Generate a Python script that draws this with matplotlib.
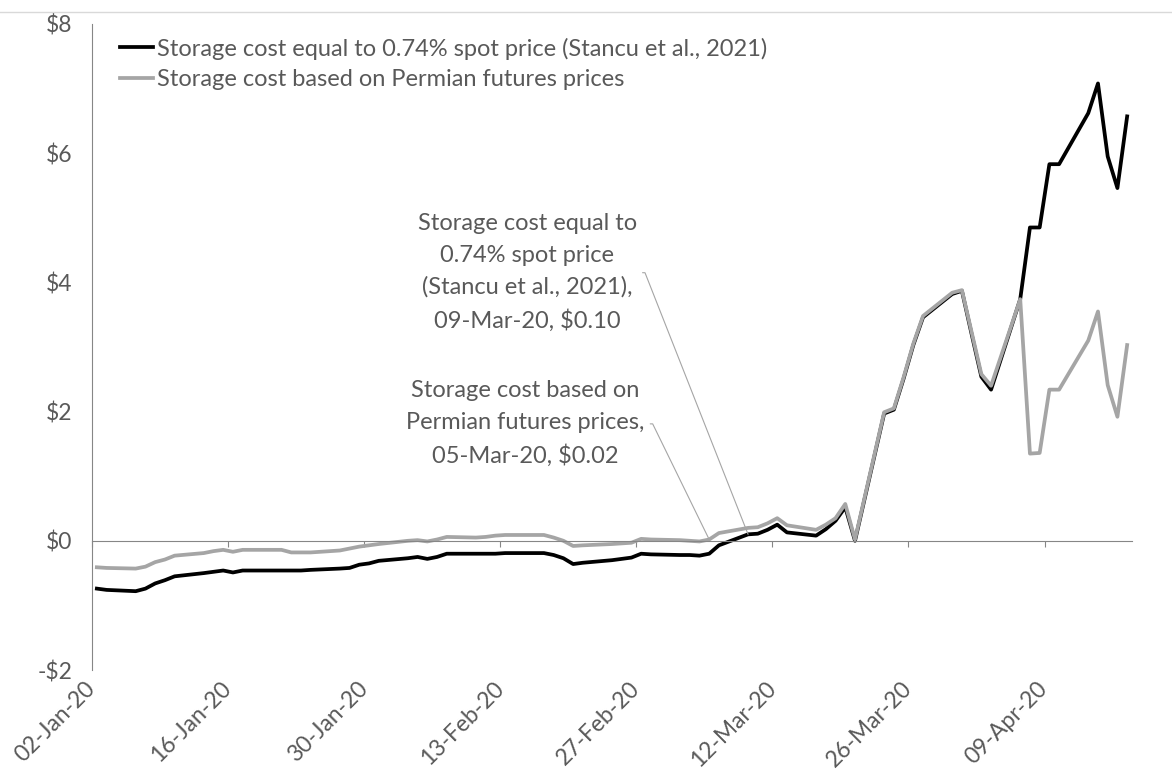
import matplotlib
matplotlib.use("Agg")
import matplotlib.pyplot as plt
import numpy as np
import pandas as pd
from matplotlib.lines import Line2D
from matplotlib.ticker import FuncFormatter

plt.rcParams["font.family"] = ["Lato", "DejaVu Sans"]

# trading days, 02-Jan-20 .. 17-Apr-20
dates = pd.bdate_range("2020-01-02", "2020-04-17")

# storage cost equal to 0.74% spot price (black)
spot_cost = [
    # Jan
    -0.74, -0.76, -0.78, -0.74, -0.66, -0.61, -0.55, -0.50, -0.48, -0.46, -0.49,
    -0.46, -0.46, -0.46, -0.46, -0.46, -0.45, -0.43, -0.42, -0.37, -0.35, -0.31,
    # Feb
    -0.27, -0.25, -0.28, -0.25, -0.20, -0.20, -0.20, -0.20, -0.19, -0.19,
    -0.19, -0.22, -0.27, -0.36, -0.34, -0.30, -0.28, -0.26, -0.20, -0.21,
    # Mar
    -0.22, -0.22, -0.23, -0.20, -0.07, 0.10, 0.11, 0.17, 0.25, 0.13, 0.08,
    0.18, 0.31, 0.52, 0.00, 1.97, 2.03, 2.51, 3.03, 3.46, 3.82, 3.87,
    # Apr
    3.20, 2.54, 2.34, 3.74, 4.85, 4.85, 5.83, 5.83, 6.62, 7.08, 5.95, 5.46, 6.57,
]

# storage cost based on Permian futures prices (grey)
permian_cost = [
    # Jan
    -0.41, -0.42, -0.43, -0.40, -0.33, -0.29, -0.23, -0.19, -0.16, -0.14, -0.17,
    -0.14, -0.14, -0.14, -0.18, -0.18, -0.18, -0.15, -0.12, -0.09, -0.07, -0.05,
    # Feb
    0.00, 0.01, -0.01, 0.02, 0.06, 0.05, 0.06, 0.08, 0.09, 0.09,
    0.09, 0.05, 0.00, -0.08, -0.07, -0.05, -0.04, -0.03, 0.03, 0.02,
    # Mar
    0.01, 0.00, -0.01, 0.02, 0.12, 0.20, 0.21, 0.27, 0.35, 0.24, 0.17,
    0.25, 0.35, 0.57, 0.02, 1.99, 2.05, 2.53, 3.05, 3.48, 3.84, 3.88,
    # Apr
    3.23, 2.58, 2.40, 3.74, 1.35, 1.36, 2.34, 2.34, 3.10, 3.55, 2.41, 1.92, 3.03,
]

tick_dates = ["02-Jan-20", "16-Jan-20", "30-Jan-20", "13-Feb-20",
              "27-Feb-20", "12-Mar-20", "26-Mar-20", "09-Apr-20"]

spot_label = "Storage cost equal to 0.74% spot price (Stancu et al., 2021)"
permian_label = "Storage cost based on Permian futures prices"

txt = "#595959"
axis_col = "#868686"
grey = "#a5a5a5"
fs = 16.5

start = dates[0]
x = np.array((dates - start).days)
tick_pos = [(pd.to_datetime(t, format="%d-%b-%y") - start).days - 0.5 for t in tick_dates]

fig = plt.figure(figsize=(11.72, 7.69), dpi=100)
ax = fig.add_axes([92 / 1172, 99 / 769, 1040 / 1172, 646 / 769])

ax.plot(x, spot_cost, color="black", lw=2.7, solid_joinstyle="round", label=spot_label)
ax.plot(x, permian_cost, color=grey, lw=2.7, solid_joinstyle="round", label=permian_label)

ax.set_xlim(-0.5, x[-1] + 0.5)
ax.set_ylim(-2, 8)
ax.set_yticks([-2, 0, 2, 4, 6, 8])
ax.yaxis.set_major_formatter(FuncFormatter(lambda v, p: f"-${-v:.0f}" if v < 0 else f"${v:.0f}"))
ax.tick_params(axis="y", length=0, pad=14, labelsize=fs, labelcolor=txt)

for s in ["top", "right"]:
    ax.spines[s].set_visible(False)
ax.spines["left"].set_color(axis_col)
ax.spines["bottom"].set_color(axis_col)
ax.spines["bottom"].set_position(("data", 0))
ax.set_xticks(tick_pos)
ax.tick_params(axis="x", direction="out", length=4.5, color=axis_col, labelbottom=False)

# date labels at bottom of plot area
sec = ax.secondary_xaxis("bottom")
sec.set_xticks(tick_pos, tick_dates)
sec.spines["bottom"].set_visible(False)
sec.tick_params(axis="x", length=0, pad=11, labelsize=fs, labelcolor=txt)
for lab in sec.get_xticklabels():
    lab.set_rotation(45)
    lab.set_ha("right")
    lab.set_va("center")
    lab.set_rotation_mode("anchor")

leg = ax.legend(loc="upper left", bbox_to_anchor=(0.027, 0.979), frameon=False,
                fontsize=17, handlelength=1.4, handletextpad=0.16, labelspacing=0.4,
                borderpad=0, borderaxespad=0)
for t in leg.get_texts():
    t.set_color(txt)

# data callouts
mar9 = pd.Timestamp("2020-03-09")
mar5 = pd.Timestamp("2020-03-05")
i9 = list(dates).index(mar9)
i5 = list(dates).index(mar5)
conn = "arc,angleA=0,armA=8,angleB=0,armB=0,rad=0"
ax.annotate("Storage cost equal to\n0.74% spot price\n(Stancu et al., 2021),\n09-Mar-20, $0.10",
            xy=(x[i9], spot_cost[i9]),
            xytext=(44.3, 4.15), textcoords="data", ha="center", va="center",
            multialignment="center", fontsize=17, color=txt, linespacing=1.62,
            arrowprops=dict(arrowstyle="-", color=grey, lw=0.8, relpos=(1, 0.5),
                            shrinkA=2, shrinkB=0, connectionstyle=conn))
ax.annotate("Storage cost based on\nPermian futures prices,\n05-Mar-20, $0.02",
            xy=(x[i5], permian_cost[i5]),
            xytext=(44.1, 1.81), textcoords="data", ha="center", va="center",
            multialignment="center", fontsize=17, color=txt, linespacing=1.62,
            arrowprops=dict(arrowstyle="-", color=grey, lw=0.8, relpos=(1, 0.5),
                            shrinkA=2, shrinkB=0, connectionstyle=conn))

# chart area border line at top
fig.add_artist(Line2D([0, 1], [1 - 12 / 769] * 2, transform=fig.transFigure,
                      color="#d9d9d9", lw=1))

fig.savefig("out.png", dpi=100)
